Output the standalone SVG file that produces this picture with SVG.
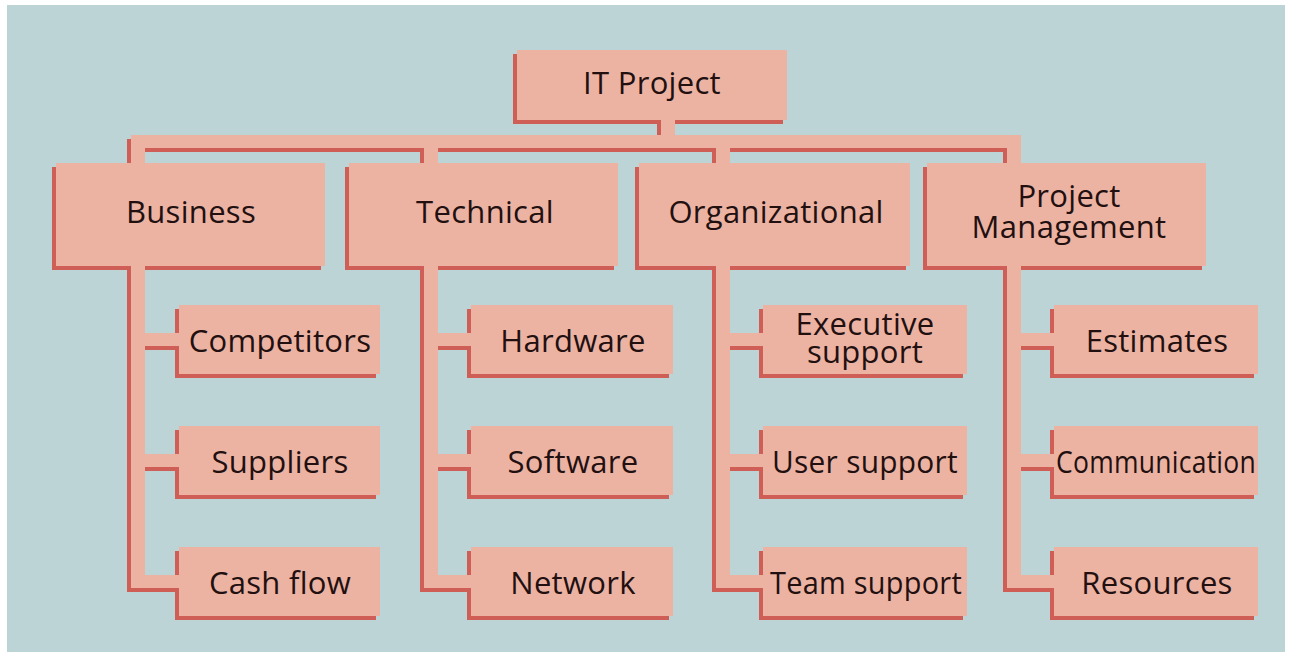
<svg xmlns="http://www.w3.org/2000/svg" width="1291" height="662" viewBox="0 0 1291 662">
<style>
.bg{fill:#BDD4D6}
.sh{fill:#CF5F56}
.fc{fill:#ECB3A3}
.t{font-family:"Open Sans","Noto Sans","Liberation Sans",sans-serif;font-size:31px;letter-spacing:0.3px;fill:#221010;text-anchor:middle}
</style>
<rect x="0" y="0" width="1291" height="662" fill="#ffffff"/>
<rect class="bg" x="7" y="5" width="1278" height="647"/>
<g id="connector-shadows">
<rect class="sh" x="657" y="122" width="14" height="19"/>
<rect class="sh" x="127" y="139" width="890" height="13"/>
<rect class="sh" x="127" y="141" width="14" height="33"/>
<rect class="sh" x="420" y="141" width="14" height="33"/>
<rect class="sh" x="712" y="141" width="14" height="33"/>
<rect class="sh" x="1003" y="141" width="14" height="33"/>
<rect class="sh" x="127" y="264" width="14" height="328"/>
<rect class="sh" x="420" y="264" width="14" height="328"/>
<rect class="sh" x="712" y="264" width="14" height="328"/>
<rect class="sh" x="1003" y="264" width="14" height="328"/>
<rect class="sh" x="127" y="337" width="50" height="13"/>
<rect class="sh" x="127" y="458" width="50" height="13"/>
<rect class="sh" x="127" y="579" width="50" height="13"/>
<rect class="sh" x="420" y="337" width="49" height="13"/>
<rect class="sh" x="420" y="458" width="49" height="13"/>
<rect class="sh" x="420" y="579" width="49" height="13"/>
<rect class="sh" x="712" y="337" width="49" height="13"/>
<rect class="sh" x="712" y="458" width="49" height="13"/>
<rect class="sh" x="712" y="579" width="49" height="13"/>
<rect class="sh" x="1003" y="337" width="49" height="13"/>
<rect class="sh" x="1003" y="458" width="49" height="13"/>
<rect class="sh" x="1003" y="579" width="49" height="13"/>
</g>
<g id="it-project"><rect class="sh" x="513" y="54" width="270" height="70"/><rect class="fc" x="517" y="50" width="270" height="70"/><text class="t" x="652" y="94">IT Project</text></g>
<g id="business"><rect class="sh" x="52" y="167" width="269" height="103"/><rect class="fc" x="56" y="163" width="269" height="103"/><text class="t" x="191" y="223">Business</text></g>
<g id="technical"><rect class="sh" x="345" y="167" width="269" height="103"/><rect class="fc" x="349" y="163" width="269" height="103"/><text class="t" x="485" y="223">Technical</text></g>
<g id="organizational"><rect class="sh" x="635" y="167" width="271" height="103"/><rect class="fc" x="639" y="163" width="271" height="103"/><text class="t" x="776" y="223">Organizational</text></g>
<g id="project-management"><rect class="sh" x="923" y="167" width="279" height="103"/><rect class="fc" x="927" y="163" width="279" height="103"/><text class="t" x="1069" y="207">Project</text><text class="t" x="1069" y="238">Management</text></g>
<g id="competitors"><rect class="sh" x="175" y="309" width="201" height="69"/><rect class="fc" x="179" y="305" width="201" height="69"/><text class="t" x="280" y="352">Competitors</text></g>
<g id="suppliers"><rect class="sh" x="175" y="430" width="201" height="69"/><rect class="fc" x="179" y="426" width="201" height="69"/><text class="t" x="280" y="473">Suppliers</text></g>
<g id="cash-flow"><rect class="sh" x="175" y="551" width="201" height="69"/><rect class="fc" x="179" y="547" width="201" height="69"/><text class="t" x="280" y="594">Cash flow</text></g>
<g id="hardware"><rect class="sh" x="467" y="309" width="202" height="69"/><rect class="fc" x="471" y="305" width="202" height="69"/><text class="t" x="573" y="352">Hardware</text></g>
<g id="software"><rect class="sh" x="467" y="430" width="202" height="69"/><rect class="fc" x="471" y="426" width="202" height="69"/><text class="t" x="573" y="473">Software</text></g>
<g id="network"><rect class="sh" x="467" y="551" width="202" height="69"/><rect class="fc" x="471" y="547" width="202" height="69"/><text class="t" x="573" y="594">Network</text></g>
<g id="executive-support"><rect class="sh" x="759" y="309" width="204" height="69"/><rect class="fc" x="763" y="305" width="204" height="69"/><text class="t" x="865" y="335">Executive</text><text class="t" x="865" y="363">support</text></g>
<g id="user-support"><rect class="sh" x="759" y="430" width="204" height="69"/><rect class="fc" x="763" y="426" width="204" height="69"/><text class="t" x="865" y="473" textLength="186" lengthAdjust="spacingAndGlyphs">User support</text></g>
<g id="team-support"><rect class="sh" x="759" y="551" width="204" height="69"/><rect class="fc" x="763" y="547" width="204" height="69"/><text class="t" x="866" y="594" textLength="192" lengthAdjust="spacingAndGlyphs">Team support</text></g>
<g id="estimates"><rect class="sh" x="1050" y="309" width="204" height="69"/><rect class="fc" x="1054" y="305" width="204" height="69"/><text class="t" x="1157" y="352">Estimates</text></g>
<g id="communication"><rect class="sh" x="1050" y="430" width="204" height="69"/><rect class="fc" x="1054" y="426" width="204" height="69"/><text class="t" x="1156" y="473" textLength="200" lengthAdjust="spacingAndGlyphs">Communication</text></g>
<g id="resources"><rect class="sh" x="1050" y="551" width="204" height="69"/><rect class="fc" x="1054" y="547" width="204" height="69"/><text class="t" x="1157" y="594">Resources</text></g>
<g id="connectors">
<rect class="fc" x="661" y="118" width="14" height="19"/>
<rect class="fc" x="131" y="135" width="890" height="13"/>
<rect class="fc" x="131" y="137" width="14" height="33"/>
<rect class="fc" x="424" y="137" width="14" height="33"/>
<rect class="fc" x="716" y="137" width="14" height="33"/>
<rect class="fc" x="1007" y="137" width="14" height="33"/>
<rect class="fc" x="131" y="260" width="14" height="328"/>
<rect class="fc" x="424" y="260" width="14" height="328"/>
<rect class="fc" x="716" y="260" width="14" height="328"/>
<rect class="fc" x="1007" y="260" width="14" height="328"/>
<rect class="fc" x="131" y="333" width="50" height="13"/>
<rect class="fc" x="131" y="454" width="50" height="13"/>
<rect class="fc" x="131" y="575" width="50" height="13"/>
<rect class="fc" x="424" y="333" width="49" height="13"/>
<rect class="fc" x="424" y="454" width="49" height="13"/>
<rect class="fc" x="424" y="575" width="49" height="13"/>
<rect class="fc" x="716" y="333" width="49" height="13"/>
<rect class="fc" x="716" y="454" width="49" height="13"/>
<rect class="fc" x="716" y="575" width="49" height="13"/>
<rect class="fc" x="1007" y="333" width="49" height="13"/>
<rect class="fc" x="1007" y="454" width="49" height="13"/>
<rect class="fc" x="1007" y="575" width="49" height="13"/>
</g>
</svg>
